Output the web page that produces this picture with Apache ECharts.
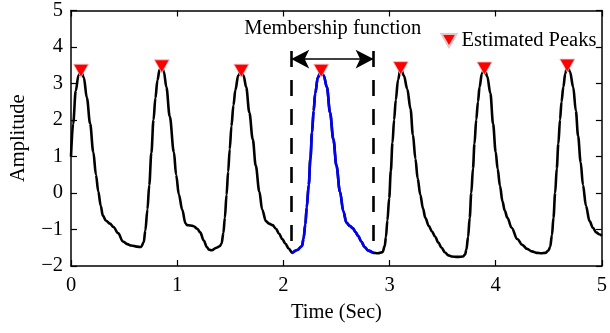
<!DOCTYPE html>
<html><head><meta charset="utf-8">
<script src="https://cdn.jsdelivr.net/npm/echarts@6/dist/echarts.min.js"></script>
<style>html,body{margin:0;padding:0;background:#fff}#c{width:610px;height:333px}</style>
</head><body><div id="c"></div>
<script>
// ---- data ----
const timeSec = [
0.00,0.02,0.045,0.07,0.094,0.12,0.15,0.18,0.21,0.235,0.257,0.28,0.30,0.33,0.366,0.40,0.443,0.49,0.53,0.567,0.62,0.66,0.685,0.70,0.72,0.737,0.757,0.777,0.795,0.814,0.835,0.855,0.875,0.898,0.93,0.969,0.99,
1.016,1.047,1.078,1.093,1.125,1.155,1.19,1.217,1.25,1.279,1.30,1.325,1.37,1.40,1.418,1.435,1.449,1.465,1.48,1.495,1.511,1.53,1.548,1.575,1.604,1.625,1.65,1.68,1.712,1.74,1.774,1.80,1.836,1.865,1.898,1.93,1.96,1.99,
2.02,2.05,2.083,2.13,2.176,2.19,2.207,2.22,2.239,2.255,2.27,2.285,2.30,2.325,2.356,2.38,2.41,2.44,2.471,2.50,2.533,2.565,2.594,2.625,2.656,2.68,2.703,2.735,2.764,2.80,2.848,2.89,2.935,2.955,2.966,2.98,2.997,
3.012,3.028,3.043,3.059,3.08,3.105,3.135,3.167,3.198,3.22,3.244,3.265,3.29,3.315,3.337,3.37,3.399,3.43,3.46,3.49,3.523,3.555,3.585,3.64,3.693,3.712,3.724,3.74,3.755,3.77,3.786,3.80,3.817,3.833,3.848,3.87,3.894,3.92,3.95,3.975,
4.0,4.018,4.04,4.064,4.085,4.11,4.15,4.203,4.25,4.296,4.34,4.389,4.43,4.467,4.495,4.513,4.53,4.544,4.56,4.575,4.59,4.606,4.62,4.637,4.655,4.674,4.70,4.73,4.755,4.776,4.80,4.822,4.85,4.884,4.915,4.946,4.975,5.0];
const amplitude = [
1.00,1.9,2.8,3.22,3.35,3.17,2.6,1.9,1.12,0.5,0.04,-0.35,-0.62,-0.76,-0.84,-0.93,-1.1,-1.33,-1.40,-1.44,-1.47,-1.48,-1.35,-1.03,-0.45,0.22,1.1,2.0,2.6,3.09,3.38,3.47,3.32,2.9,2.1,1.12,0.5,
-0.04,-0.45,-0.83,-0.88,-0.89,-0.91,-0.98,-1.08,-1.3,-1.48,-1.55,-1.57,-1.50,-1.46,-1.39,-1.1,-0.68,-0.05,0.58,1.2,1.83,2.4,2.82,3.22,3.35,3.22,2.9,2.2,1.47,0.75,0.04,-0.45,-0.77,-0.84,-0.88,-0.98,-1.12,-1.26,
-1.39,-1.52,-1.64,-1.56,-1.45,-1.25,-0.86,-0.4,0.22,0.95,1.65,2.25,2.73,3.17,3.35,3.22,2.9,2.2,1.47,0.75,0.04,-0.5,-0.81,-0.9,-0.97,-1.07,-1.17,-1.33,-1.48,-1.58,-1.64,-1.65,-1.62,-1.45,-1.21,-0.75,-0.14,
0.6,1.38,2.0,2.55,3.1,3.42,3.22,2.85,2.3,1.6,0.94,0.4,-0.05,-0.42,-0.68,-0.9,-1.05,-1.2,-1.36,-1.5,-1.63,-1.71,-1.74,-1.75,-1.74,-1.68,-1.55,-1.2,-0.68,0.0,0.67,1.35,2.01,2.5,2.9,3.27,3.41,3.2,2.73,1.9,
1.12,0.67,0.2,-0.23,-0.48,-0.68,-0.95,-1.26,-1.42,-1.53,-1.6,-1.64,-1.65,-1.64,-1.58,-1.48,-1.15,-0.68,0.0,0.67,1.35,2.01,2.5,2.9,3.27,3.49,3.32,2.9,2.25,1.56,0.85,0.22,-0.35,-0.77,-0.95,-1.08,-1.13,-1.17];
const peakTime = [0.094,0.855,1.604,2.356,3.105,3.894,4.674];
const peakAmp  = [3.35,3.47,3.35,3.35,3.42,3.41,3.49];
const xTicks = [0,1,2,3,4,5];
const yTicks = [-2,-1,0,1,2,3,4,5];
const memStart = 2.083, memEnd = 2.848;
const memLabel = 'Membership function';
const legendLabel = 'Estimated Peaks';
const xName = 'Time (Sec)', yName = 'Amplitude';

// ---- build ----
const FONT = 'Liberation Serif';
const FS = 20.5;
const sig = timeSec.map((t,i)=>[t, amplitude[i]]);
const memSeg = sig.filter(p => p[0] >= memStart - 1e-9 && p[0] <= memEnd + 1e-9);
const peaks = peakTime.map((t,i)=>[t, peakAmp[i]]);
const fmtY = v => v < 0 ? '\u2212' + Math.abs(v) : String(v);

const axisLine = {show:true, onZero:false, lineStyle:{color:'#000', width:1.5}};
const axisTick = {show:true, inside:true, length:6, lineStyle:{color:'#000', width:1.2}};
const lblStyle = {color:'#000', fontFamily:FONT, fontSize:FS};

const chart = echarts.init(document.getElementById('c'), null, {renderer:'canvas'});
chart.setOption({
  animation:false,
  backgroundColor:'#fff',
  grid:{left:70.6, right:1.5, top:5.5, bottom:67, containLabel:false},
  legend:{
    show:true, left:440.5, top:30, orient:'horizontal', padding:0,
    itemWidth:15, itemHeight:13, itemGap:5,
    textStyle:{color:'#000', fontFamily:FONT, fontSize:FS},
    data:[{name:legendLabel, icon:'path://M0,0L14,0L7,12Z'}]
  },
  xAxis:[
    {type:'value', min:xTicks[0], max:xTicks[xTicks.length-1], interval:1, position:'bottom',
     axisLine, axisTick, splitLine:{show:false},
     axisLabel:Object.assign({margin:9, alignMinLabel:'center', alignMaxLabel:'center', hideOverlap:false}, lblStyle),
     name:xName, nameLocation:'middle', nameGap:36, nameTextStyle:lblStyle},
    {type:'value', min:xTicks[0], max:xTicks[xTicks.length-1], interval:1, position:'top',
     axisLine, axisTick, splitLine:{show:false}, axisLabel:{show:false}}
  ],
  yAxis:[
    {type:'value', min:yTicks[0], max:yTicks[yTicks.length-1], interval:1, position:'left',
     axisLine, axisTick, splitLine:{show:false},
     axisLabel:Object.assign({margin:8, formatter:fmtY}, lblStyle),
     name:yName, nameLocation:'middle', nameGap:42, nameRotate:90, nameTextStyle:lblStyle},
    {type:'value', min:yTicks[0], max:yTicks[yTicks.length-1], interval:1, position:'right',
     axisLine, axisTick, splitLine:{show:false}, axisLabel:{show:false}}
  ],
  series:[
    {type:'line', name:'signal', data:sig, showSymbol:false, symbol:'none',
     smooth:0.35, smoothMonotone:'x',
     lineStyle:{color:'#000', width:2.6}, itemStyle:{color:'#000'}, z:2, silent:true},
    {type:'line', name:'membership', data:memSeg, showSymbol:false, symbol:'none',
     smooth:0.35, smoothMonotone:'x',
     lineStyle:{color:'#0000ff', width:2.6}, itemStyle:{color:'#0000ff'}, z:3, silent:true,
     markLine:{
       silent:true, animation:false, label:{show:false},
       data:[
         [{coord:[memStart-0.009,3.89], symbol:'none', lineStyle:{color:'#000', width:2.6, type:[16,13]}},
          {coord:[memStart-0.009,-1.64], symbol:'none'}],
         [{coord:[memEnd+0.002,3.89], symbol:'none', lineStyle:{color:'#000', width:2.6, type:[16,13]}},
          {coord:[memEnd+0.002,-1.64], symbol:'none'}],
         [{coord:[memStart-0.009,3.67], symbol:'arrow', symbolSize:[14,18], lineStyle:{color:'#000', width:1.5, type:'solid'}},
          {coord:[memEnd+0.002,3.67], symbol:'arrow', symbolSize:[14,18]}]
       ]
     },
     markPoint:{
       silent:true, animation:false,
       data:[{coord:[(memStart+memEnd)/2 + 0.0, 4.5], symbol:'circle', symbolSize:0,
              itemStyle:{color:'rgba(0,0,0,0)'},
              label:{show:true, position:'inside', formatter:memLabel, color:'#000', fontFamily:FONT, fontSize:FS}}]
     }},
    {type:'scatter', name:legendLabel, data:peaks,
     symbol:'path://M0,0L14,0L7,12Z', symbolSize:[15,13],
     itemStyle:{color:'#ff0000', borderColor:'#e8c4c4', borderWidth:0.8, opacity:1}, z:5, silent:true}
  ]
});
</script>
</body></html>
